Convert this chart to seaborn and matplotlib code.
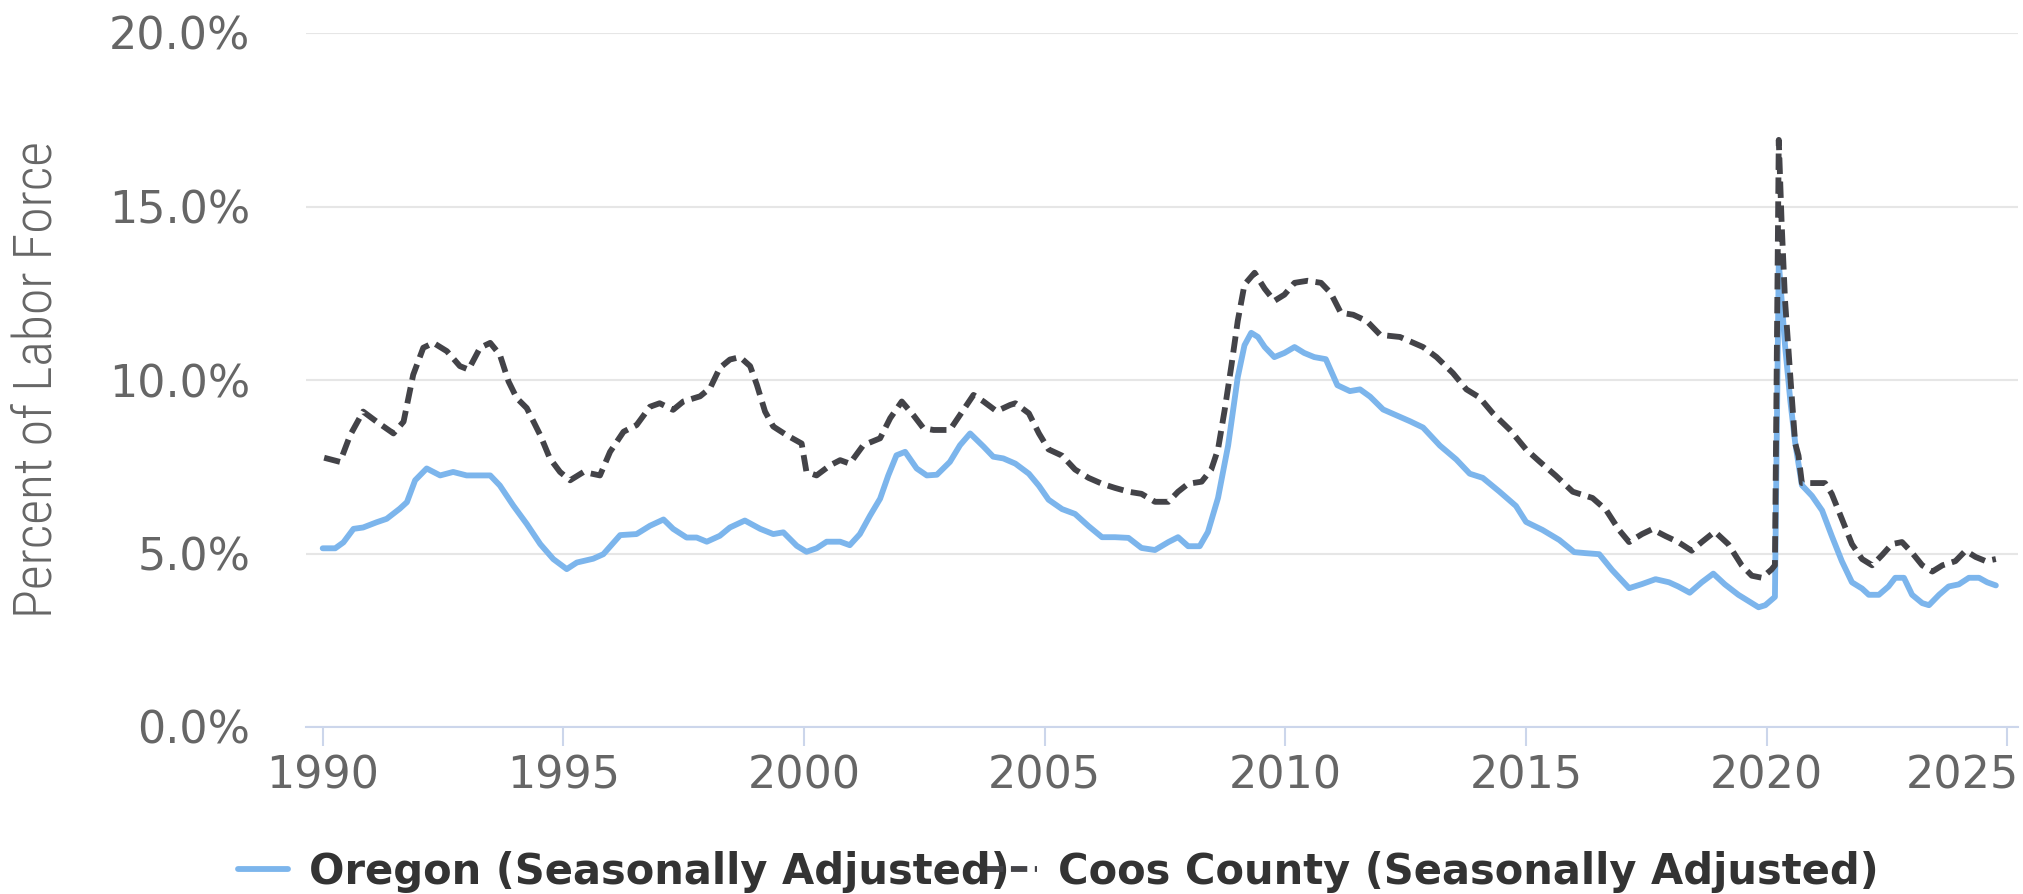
import matplotlib
matplotlib.use("Agg")
import matplotlib.pyplot as plt
import matplotlib.transforms as mtransforms
from matplotlib.lines import Line2D
import seaborn as sns
import pandas as pd

# ---- data ----
oregon_year = [
    1990.00, 1990.26, 1990.43, 1990.64, 1990.84, 1991.12, 1991.33, 1991.60, 1991.75, 1991.92,
    1992.16, 1992.44, 1992.71, 1992.99, 1993.48, 1993.68, 1993.96, 1994.24, 1994.52, 1994.79,
    1995.07, 1995.28, 1995.62, 1995.83, 1996.18, 1996.52, 1996.80, 1997.08, 1997.28, 1997.56,
    1997.77, 1997.98, 1998.25, 1998.46, 1998.77, 1999.09, 1999.36, 1999.57, 1999.85, 2000.05,
    2000.26, 2000.47, 2000.75, 2000.95, 2001.16, 2001.37, 2001.58, 2001.75, 2001.92, 2002.10,
    2002.34, 2002.55, 2002.76, 2003.03, 2003.24, 2003.45, 2003.73, 2003.93, 2004.14, 2004.39,
    2004.67, 2004.88, 2005.08, 2005.36, 2005.63, 2005.91, 2006.19, 2006.46, 2006.74, 2007.01,
    2007.29, 2007.57, 2007.77, 2007.98, 2008.22, 2008.39, 2008.60, 2008.81, 2009.01, 2009.15,
    2009.29, 2009.43, 2009.57, 2009.77, 2009.98, 2010.19, 2010.39, 2010.60, 2010.84, 2011.08,
    2011.34, 2011.55, 2011.76, 2012.03, 2012.31, 2012.59, 2012.86, 2013.21, 2013.55, 2013.83,
    2014.10, 2014.45, 2014.79, 2015.00, 2015.34, 2015.69, 2016.00, 2016.24, 2016.52, 2016.79,
    2017.14, 2017.41, 2017.69, 2017.97, 2018.16, 2018.40, 2018.65, 2018.89, 2019.13, 2019.41,
    2019.62, 2019.83, 2019.97, 2020.17, 2020.25, 2020.31, 2020.38, 2020.49, 2020.59, 2020.73,
    2020.94, 2021.15, 2021.35, 2021.56, 2021.77, 2021.98, 2022.12, 2022.33, 2022.53, 2022.67,
    2022.85, 2023.02, 2023.23, 2023.37, 2023.58, 2023.78, 2023.99, 2024.20, 2024.41, 2024.58,
    2024.76,
]
oregon_rate = [
    5.15, 5.15, 5.32, 5.71, 5.75, 5.90, 6.00, 6.29, 6.48, 7.11,
    7.45, 7.25, 7.35, 7.25, 7.25, 6.96, 6.38, 5.85, 5.27, 4.84,
    4.55, 4.74, 4.85, 4.98, 5.53, 5.56, 5.80, 5.98, 5.71, 5.46,
    5.46, 5.34, 5.51, 5.75, 5.95, 5.71, 5.56, 5.61, 5.22, 5.05,
    5.15, 5.34, 5.34, 5.24, 5.56, 6.09, 6.58, 7.25, 7.83, 7.93,
    7.45, 7.25, 7.27, 7.64, 8.12, 8.46, 8.08, 7.79, 7.74, 7.59,
    7.30, 6.95, 6.55, 6.28, 6.14, 5.79, 5.47, 5.47, 5.45, 5.16,
    5.10, 5.33, 5.47, 5.21, 5.21, 5.62, 6.60, 8.11, 10.08, 11.00,
    11.36, 11.24, 10.95, 10.66, 10.78, 10.95, 10.78, 10.66, 10.60, 9.85,
    9.68, 9.73, 9.52, 9.15, 8.98, 8.81, 8.63, 8.11, 7.71, 7.30,
    7.18, 6.78, 6.37, 5.91, 5.68, 5.39, 5.04, 5.01, 4.98, 4.52,
    4.00, 4.12, 4.26, 4.17, 4.05, 3.87, 4.17, 4.42, 4.11, 3.81,
    3.63, 3.45, 3.51, 3.75, 13.40, 12.30, 11.00, 9.40, 8.20, 6.97,
    6.66, 6.24, 5.51, 4.78, 4.17, 3.99, 3.81, 3.81, 4.05, 4.30,
    4.30, 3.81, 3.57, 3.51, 3.81, 4.05, 4.11, 4.30, 4.30, 4.17,
    4.08,
]

coos_year = [
    1990.03, 1990.36, 1990.57, 1990.84, 1991.12, 1991.47, 1991.68, 1991.88, 1992.09, 1992.30,
    1992.58, 1992.85, 1993.03, 1993.27, 1993.48, 1993.68, 1993.86, 1994.03, 1994.24, 1994.52,
    1994.72, 1994.93, 1995.14, 1995.42, 1995.76, 1995.97, 1996.25, 1996.52, 1996.80, 1997.00,
    1997.28, 1997.49, 1997.84, 1998.05, 1998.25, 1998.46, 1998.67, 1998.88, 1999.02, 1999.19,
    1999.36, 1999.64, 1999.95, 2000.05, 2000.26, 2000.54, 2000.75, 2000.95, 2001.23, 2001.58,
    2001.79, 2002.03, 2002.27, 2002.48, 2002.69, 2003.03, 2003.31, 2003.52, 2003.73, 2004.00,
    2004.28, 2004.39, 2004.67, 2004.88, 2005.08, 2005.36, 2005.63, 2005.91, 2006.19, 2006.46,
    2006.74, 2007.01, 2007.29, 2007.57, 2007.77, 2007.98, 2008.26, 2008.46, 2008.60, 2008.74,
    2008.88, 2009.01, 2009.15, 2009.36, 2009.57, 2009.77, 2009.98, 2010.19, 2010.46, 2010.74,
    2010.94, 2011.15, 2011.41, 2011.69, 2011.97, 2012.38, 2012.86, 2013.14, 2013.48, 2013.76,
    2014.03, 2014.31, 2014.66, 2015.00, 2015.28, 2015.62, 2015.97, 2016.38, 2016.66, 2016.93,
    2017.14, 2017.41, 2017.62, 2017.90, 2018.16, 2018.44, 2018.65, 2018.92, 2019.20, 2019.48,
    2019.69, 2019.90, 2020.10, 2020.17, 2020.25, 2020.31, 2020.38, 2020.49, 2020.59, 2020.66,
    2020.73, 2021.00, 2021.21, 2021.35, 2021.56, 2021.77, 2021.98, 2022.19, 2022.40, 2022.60,
    2022.81, 2023.02, 2023.23, 2023.44, 2023.65, 2023.92, 2024.13, 2024.34, 2024.55, 2024.76,
]
coos_rate = [
    7.76, 7.64, 8.41, 9.09, 8.80, 8.46, 8.80, 10.15, 10.93, 11.07,
    10.83, 10.40, 10.30, 10.93, 11.07, 10.73, 9.96, 9.48, 9.19, 8.41,
    7.74, 7.35, 7.11, 7.35, 7.25, 7.93, 8.51, 8.70, 9.23, 9.33,
    9.14, 9.38, 9.53, 9.77, 10.35, 10.59, 10.66, 10.40, 9.86, 9.09,
    8.66, 8.41, 8.17, 7.35, 7.25, 7.54, 7.69, 7.59, 8.12, 8.32,
    8.90, 9.38, 8.99, 8.61, 8.56, 8.56, 9.14, 9.57, 9.38, 9.10,
    9.28, 9.33, 9.04, 8.46, 8.00, 7.82, 7.42, 7.18, 7.01, 6.89,
    6.78, 6.72, 6.49, 6.49, 6.78, 7.01, 7.07, 7.42, 8.00, 9.15,
    10.43, 11.70, 12.75, 13.09, 12.63, 12.28, 12.46, 12.80, 12.86, 12.80,
    12.51, 11.94, 11.88, 11.70, 11.30, 11.24, 10.95, 10.66, 10.20, 9.73,
    9.50, 9.04, 8.57, 8.00, 7.65, 7.24, 6.78, 6.60, 6.26, 5.68,
    5.33, 5.56, 5.70, 5.50, 5.33, 5.08, 5.33, 5.63, 5.27, 4.66,
    4.36, 4.30, 4.54, 4.66, 16.92, 14.50, 12.30, 10.10, 8.18, 7.82,
    7.03, 7.03, 7.03, 6.72, 6.00, 5.27, 4.84, 4.66, 4.96, 5.27,
    5.33, 5.02, 4.66, 4.48, 4.66, 4.78, 5.08, 4.90, 4.78, 4.84,
]

series_names = ["Oregon (Seasonally Adjusted)", "Coos County (Seasonally Adjusted)"]
series_colors = ["#7cb5ec", "#434348"]
x_ticks = [1990, 1995, 2000, 2005, 2010, 2015, 2020, 2025]
y_ticks = [0, 5, 10, 15, 20]
y_title = "Percent of Labor Force"

df = pd.concat([
    pd.DataFrame({"year": oregon_year, "rate": oregon_rate, "series": series_names[0]}),
    pd.DataFrame({"year": coos_year, "rate": coos_rate, "series": series_names[1]}),
], ignore_index=True)

# ---- figure ----
sns.set_theme(style="white")
plt.rcParams["font.family"] = ["DejaVu Sans"]

W, H = 2024, 894
fig = plt.figure(figsize=(W / 100, H / 100), dpi=100)
fig.patch.set_facecolor("white")
left_px, right_px, top_px, bot_px = 306, 2018, 33, 727
ax = fig.add_axes([left_px / W, 1 - bot_px / H, (right_px - left_px) / W, (bot_px - top_px) / H])

lw = 4.2
dash = (2.8, 1.3)
sns.lineplot(
    data=df, x="year", y="rate", hue="series", style="series",
    hue_order=series_names, style_order=series_names,
    palette=dict(zip(series_names, series_colors)),
    dashes={series_names[0]: "", series_names[1]: dash},
    estimator=None, sort=False, legend=False, ax=ax,
)
lines = ax.get_lines()
for ln in lines:
    ln.set_linewidth(lw)
    ln.set_solid_joinstyle("round")
    ln.set_dash_joinstyle("round")
lines[1].set_dashes(dash)

ax.set_xlim(1989.653, 2025.22)
ax.set_ylim(0, 20)
ax.set_xticks(x_ticks)
ax.set_xticklabels([str(t) for t in x_ticks])
ax.set_yticks(y_ticks)
ax.set_yticklabels([f"{t:.1f}%" for t in y_ticks])
ax.set_xlabel("")

ax.yaxis.grid(True, color="#e6e6e6", linewidth=1.5)
ax.xaxis.grid(False)
ax.set_axisbelow(True)
for s in ["left", "right", "top"]:
    ax.spines[s].set_visible(False)
ax.spines["bottom"].set_color("#ccd6eb")
ax.spines["bottom"].set_linewidth(1.5)

ax.tick_params(axis="x", length=14, width=1.5, color="#ccd6eb", pad=6,
               labelsize=32, labelcolor="#666666", direction="out", bottom=True)
ax.tick_params(axis="y", length=0, pad=40, labelsize=32, labelcolor="#666666", left=True)

# last x label is pushed inside the figure (like the reference)
last = ax.get_xticklabels()[-1]
last.set_ha("right")
last.set_transform(last.get_transform() + mtransforms.ScaledTranslation(0.12, 0, fig.dpi_scale_trans))

ylab = ax.set_ylabel(y_title, fontsize=41, color="#666666",
                     family=["Roboto Condensed", "Liberation Sans Narrow", "DejaVu Sans"],
                     fontweight="light", va="center")
ax.yaxis.set_label_coords((37 - left_px) / (right_px - left_px), 0.5)

handles = [
    Line2D([], [], color=series_colors[0], lw=lw),
    Line2D([], [], color=series_colors[1], lw=lw, dashes=dash),
]
leg = fig.legend(
    handles, series_names, loc="center left", bbox_to_anchor=(238 / W, 1 - 872 / H),
    ncol=2, frameon=False, borderpad=0, borderaxespad=0,
    handlelength=1.2, handletextpad=0.5, columnspacing=-0.55,
    prop={"weight": "bold", "size": 30},
)
for t in leg.get_texts():
    t.set_color("#333333")

# fit the axis title to the reference length (~478 px)
fig.canvas.draw()
bb = ylab.get_window_extent(fig.canvas.get_renderer())
ylab.set_fontsize(41 * 478.0 / bb.height)

fig.savefig("out.png", dpi=100, facecolor="white")
